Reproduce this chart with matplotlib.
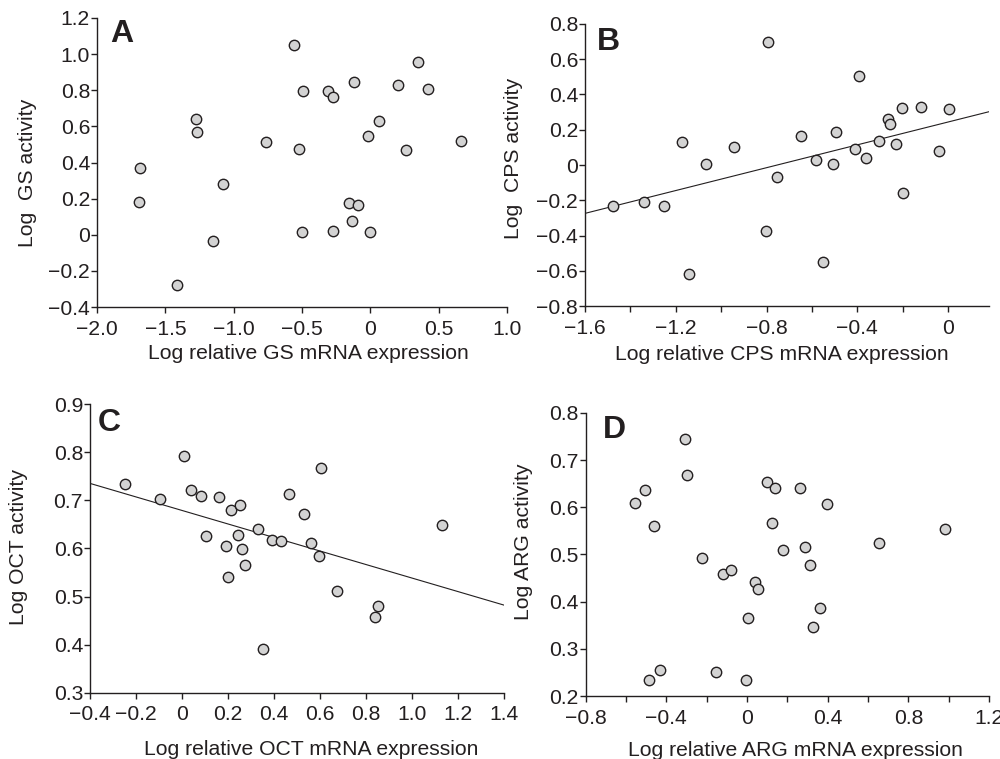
import numpy as np
import matplotlib
matplotlib.use('Agg')
import matplotlib.pyplot as plt

plt.rcParams['font.family'] = ['Liberation Sans', 'DejaVu Sans']

# Panel A: GS
gs_x = [-1.683, -1.695, -1.273, -1.268, -1.412, -1.151, -1.078, -0.763, -0.559,
        -0.495, -0.522, -0.498, -0.307, -0.276, -0.276, -0.122, -0.154, -0.090,
        -0.134, -0.005, -0.015, 0.061, 0.205, 0.351, 0.420, 0.263, 0.661]
gs_y = [0.368, 0.184, 0.641, 0.567, -0.276, -0.034, 0.283, 0.512, 1.050,
        0.797, 0.475, 0.016, 0.797, 0.765, 0.022, 0.847, 0.177, 0.164,
        0.077, 0.018, 0.549, 0.627, 0.830, 0.954, 0.806, 0.469, 0.519]

# Panel B: CPS
cps_x = [-1.476, -1.341, -1.253, -1.174, -1.141, -1.069, -0.944, -0.793, -0.804,
         -0.753, -0.649, -0.581, -0.551, -0.509, -0.496, -0.409, -0.394, -0.362,
         -0.303, -0.265, -0.256, -0.231, -0.203, -0.200, -0.118, -0.041, 0.003]
cps_y = [-0.233, -0.210, -0.233, 0.129, -0.618, 0.004, 0.100, 0.698, -0.376,
         -0.068, 0.166, 0.030, -0.552, 0.008, 0.189, 0.091, 0.505, 0.042,
         0.138, 0.261, 0.235, 0.119, 0.322, -0.157, 0.327, 0.081, 0.316]
cps_fit = (0.324, 0.244)  # slope, intercept

# Panel C: OCT
oct_x = [-0.249, -0.094, 0.010, 0.039, 0.084, 0.105, 0.160, 0.214, 0.252,
         0.192, 0.202, 0.244, 0.259, 0.276, 0.331, 0.352, 0.392, 0.430,
         0.466, 0.530, 0.559, 0.595, 0.606, 0.676, 0.840, 0.854, 1.132]
oct_y = [0.733, 0.702, 0.793, 0.722, 0.710, 0.626, 0.706, 0.680, 0.691,
         0.606, 0.541, 0.628, 0.599, 0.565, 0.641, 0.392, 0.617, 0.616,
         0.713, 0.672, 0.611, 0.585, 0.767, 0.512, 0.458, 0.481, 0.648]
oct_fit = (-0.1404, 0.679)

# Panel D: ARG
arg_x = [-0.557, -0.504, -0.461, -0.488, -0.433, -0.306, -0.299, -0.223, -0.154,
         -0.119, -0.081, -0.003, 0.005, 0.038, 0.055, 0.098, 0.140, 0.126,
         0.177, 0.261, 0.286, 0.314, 0.397, 0.364, 0.329, 0.655, 0.980]
arg_y = [0.610, 0.637, 0.560, 0.233, 0.256, 0.744, 0.669, 0.492, 0.250,
         0.458, 0.468, 0.233, 0.366, 0.442, 0.426, 0.654, 0.642, 0.566,
         0.509, 0.640, 0.516, 0.477, 0.608, 0.386, 0.347, 0.525, 0.554]

M = '\u2212'
a_xticks = [-2.0, -1.5, -1.0, -0.5, 0, 0.5, 1.0]
a_xlabels = [M + '2.0', M + '1.5', M + '1.0', M + '0.5', '0', '0.5', '1.0']
a_yticks = [-0.4, -0.2, 0, 0.2, 0.4, 0.6, 0.8, 1.0, 1.2]
a_ylabels = [M + '0.4', M + '0.2', '0', '0.2', '0.4', '0.6', '0.8', '1.0', '1.2']
b_xticks = [-1.6, -1.2, -0.8, -0.4, 0]
b_xlabels = [M + '1.6', M + '1.2', M + '0.8', M + '0.4', '0']
b_yticks = [-0.8, -0.6, -0.4, -0.2, 0, 0.2, 0.4, 0.6, 0.8]
b_ylabels = [M + '0.8', M + '0.6', M + '0.4', M + '0.2', '0', '0.2', '0.4', '0.6', '0.8']
c_xticks = [-0.4, -0.2, 0, 0.2, 0.4, 0.6, 0.8, 1.0, 1.2, 1.4]
c_xlabels = [M + '0.4', M + '0.2', '0', '0.2', '0.4', '0.6', '0.8', '1.0', '1.2', '1.4']
c_yticks = [0.3, 0.4, 0.5, 0.6, 0.7, 0.8, 0.9]
c_ylabels = ['0.3', '0.4', '0.5', '0.6', '0.7', '0.8', '0.9']
d_xticks = [-0.8, -0.4, 0, 0.4, 0.8, 1.2]
d_xlabels = [M + '0.8', M + '0.4', '0', '0.4', '0.8', '1.2']
d_yticks = [0.2, 0.3, 0.4, 0.5, 0.6, 0.7, 0.8]
d_ylabels = ['0.2', '0.3', '0.4', '0.5', '0.6', '0.7', '0.8']

ink = '#231f20'
fs = 15.2

fig = plt.figure(figsize=(10, 7.59), dpi=100)

panels = [
    dict(rect=[0.097, 0.5955, 0.410, 0.3808], x=gs_x, y=gs_y, fit=None,
         xlim=(-2.0, 1.0), ylim=(-0.4, 1.2), xt=a_xticks, xl=a_xlabels, minor=None,
         yt=a_yticks, yl=a_ylabels, letter='A', lpos=(0.032, 0.997),
         xlabel='Log relative GS mRNA expression', xlc=(0.515, -0.128),
         ylabel='Log  GS activity', ylc=(-0.146, 0.464)),
    dict(rect=[0.585, 0.5968, 0.404, 0.3716], x=cps_x, y=cps_y, fit=cps_fit,
         xlim=(-1.6, 0.18), ylim=(-0.8, 0.8), xt=b_xticks, xl=b_xlabels,
         minor=[-1.4, -1.0, -0.6, -0.2],
         yt=b_yticks, yl=b_ylabels, letter='B', lpos=(0.03, 0.99),
         xlabel='Log relative CPS mRNA expression', xlc=(0.486, -0.138),
         ylabel='Log  CPS activity', ylc=(-0.153, 0.525)),
    dict(rect=[0.090, 0.0870, 0.414, 0.3807], x=oct_x, y=oct_y, fit=oct_fit,
         xlim=(-0.4, 1.4), ylim=(0.3, 0.9), xt=c_xticks, xl=c_xlabels, minor=None,
         yt=c_yticks, yl=c_ylabels, letter='C', lpos=(0.019, 0.986),
         xlabel='Log relative OCT mRNA expression', xlc=(0.534, -0.163),
         ylabel='Log OCT activity', ylc=(-0.150, 0.505)),
    dict(rect=[0.5857, 0.0830, 0.4033, 0.3729], x=arg_x, y=arg_y, fit=None,
         xlim=(-0.8, 1.2), ylim=(0.2, 0.8), xt=d_xticks, xl=d_xlabels,
         minor=[-0.6, -0.2, 0.2, 0.6, 1.0],
         yt=d_yticks, yl=d_ylabels, letter='D', lpos=(0.042, 0.993),
         xlabel='Log relative ARG mRNA expression', xlc=(0.519, -0.159),
         ylabel='Log ARG activity', ylc=(-0.1315, 0.546)),
]

for p in panels:
    ax = fig.add_axes(p['rect'])
    ax.scatter(p['x'], p['y'], s=56, facecolor='#d3d3d3', edgecolor=ink,
               linewidth=1.0, zorder=3, clip_on=False)
    if p['fit'] is not None:
        xs = np.array(p['xlim'])
        ax.plot(xs, p['fit'][0] * xs + p['fit'][1], color=ink, lw=0.8, zorder=2)
    ax.set_xlim(p['xlim'])
    ax.set_ylim(p['ylim'])
    ax.set_xticks(p['xt'])
    ax.set_xticklabels(p['xl'])
    if p['minor']:
        ax.set_xticks(p['minor'], minor=True)
    ax.set_yticks(p['yt'])
    ax.set_yticklabels(p['yl'])
    for s in ['top', 'right']:
        ax.spines[s].set_visible(False)
    for s in ['left', 'bottom']:
        ax.spines[s].set_linewidth(1.0)
        ax.spines[s].set_color(ink)
    ax.tick_params(which='both', direction='out', length=4, width=1.0,
                   colors=ink, labelsize=fs)
    ax.tick_params(axis='x', which='both', pad=5)
    ax.tick_params(axis='y', which='both', pad=1)
    ax.set_xlabel(p['xlabel'], fontsize=fs, color=ink)
    ax.set_ylabel(p['ylabel'], fontsize=fs, color=ink)
    ax.xaxis.set_label_coords(*p['xlc'])
    ax.yaxis.set_label_coords(*p['ylc'])
    ax.text(p['lpos'][0], p['lpos'][1], p['letter'], transform=ax.transAxes,
            fontsize=23, fontweight='bold', color=ink, ha='left', va='top')

fig.savefig('out.png', dpi=100)
